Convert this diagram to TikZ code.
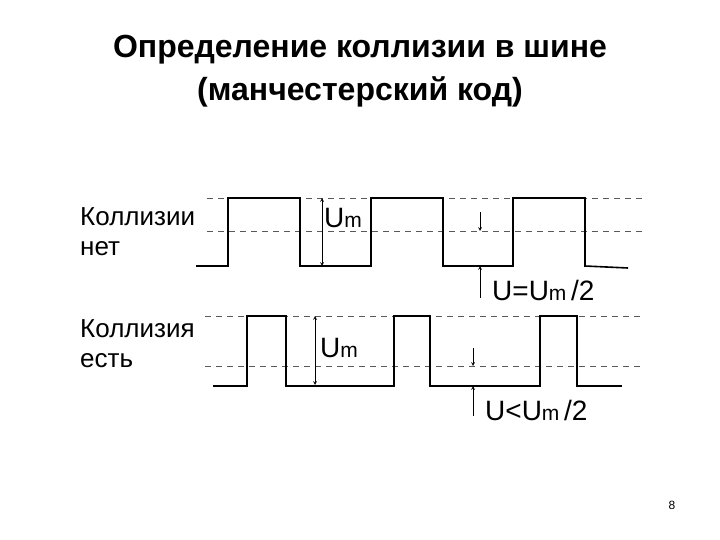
\documentclass[tikz,border=0pt]{standalone}
\usepackage{fontspec}
\setmainfont{Liberation Sans}
\begin{document}
\begin{tikzpicture}[x=1pt,y=-1pt,
  wave/.style={line width=1.6pt,line join=miter},
  dline/.style={dash pattern=on 6pt off 5pt,line width=0.8pt,gray!70!black},
  meas/.style={line width=0.7pt,-stealth},
  lbl/.style={font=\fontsize{26}{30}\selectfont,anchor=west,inner sep=0pt},
  ulbl/.style={font=\fontsize{28}{30}\selectfont,anchor=west,inner sep=0pt}]
\useasboundingbox (0,0) rectangle (720,540);
\node[font=\fontsize{32}{36}\selectfont\bfseries] (t1) at (360,50) {Определение коллизии в шине};
\node[font=\fontsize{32}{36}\selectfont\bfseries] (t2) at (360,92) {(манчестерский код)};
% top
\draw[dline] (207,198) -- (642,198);
\draw[dline] (207,231) -- (642,231);
\draw[wave] (196,266) -- (228,266) -- (228,198) -- (300,198) -- (300,266) -- (371,266) -- (371,198) -- (443,198) -- (443,266) -- (513,266) -- (513,198) -- (585,198) -- (585,266) -- (628,268);
\coordinate (a1) at (322,198); \coordinate (a2) at (322,266);
\draw[meas,stealth-stealth] (a1) -- (a2);
\node[ulbl] (um1) at (324,218) {U{\fontsize{21}{24}\selectfont m}};
\coordinate (b1) at (480,212); \coordinate (b2) at (480,231);
\coordinate (b3) at (480,298); \coordinate (b4) at (480,266);
\draw[meas] (b1) -- (b2);
\draw[meas] (b3) -- (b4);
\node[ulbl] (u1) at (492,290) {U=U{\fontsize{21}{24}\selectfont m}\,/2};
\node[lbl,anchor=north west] (k1) at (80,204) {\begin{tabular}{@{}l@{}}Коллизии\\нет\end{tabular}};
% bottom
\draw[dline] (205,316) -- (642,316);
\draw[dline] (205,366) -- (642,366);
\draw[wave] (213,386) -- (247,386) -- (247,316) -- (286,316) -- (286,386) -- (394,386) -- (394,316) -- (430,316) -- (430,386) -- (540,386) -- (540,316) -- (577,316) -- (577,386) -- (622,386);
\coordinate (c1) at (315,316); \coordinate (c2) at (315,385);
\draw[meas,stealth-stealth] (c1) -- (c2);
\node[ulbl] (um2) at (320,348) {U{\fontsize{21}{24}\selectfont m}};
\coordinate (d1) at (473,348); \coordinate (d2) at (473,366);
\coordinate (d3) at (473,416); \coordinate (d4) at (473,386);
\draw[meas] (d1) -- (d2);
\draw[meas] (d3) -- (d4);
\node[ulbl] (u2) at (485,410) {U<U{\fontsize{21}{24}\selectfont m}\,/2};
\node[lbl,anchor=north west] (k2) at (80,316) {\begin{tabular}{@{}l@{}}Коллизия\\есть\end{tabular}};
\node[font=\fontsize{12}{14}\selectfont] (p) at (672,505) {8};
\end{tikzpicture}
\end{document}
